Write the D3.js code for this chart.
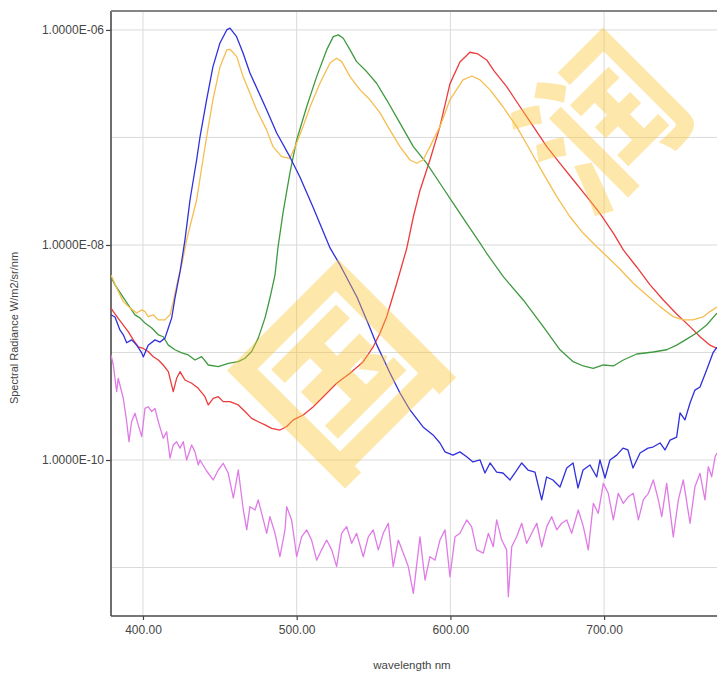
<!DOCTYPE html>
<html>
<head>
<meta charset="utf-8">
<script src="https://cdn.jsdelivr.net/npm/d3@7/dist/d3.min.js"></script>
<style>
    body { margin: 0; background: #fff; }
    svg text { font-family: "Liberation Sans", Arial, sans-serif; fill: #454545; }
</style>
</head>
<body>
<div id="chart" style="width:717px;height:675px;"></div>
<script>

// wavelength ticks (nm) and the decades that carry a label
const wavelengthTicks = [400, 500, 600, 700];
const decadeLines = [1e-6, 1e-7, 1e-8, 1e-9, 1e-10, 1e-11];
const decadeLabels = [1e-6, 1e-8, 1e-10];

// spectra: [wavelength nm, radiance W/m2/sr/nm]
const blueSpectrum = [
    [379.2,2.24e-9],[381.8,2.14e-9],[385.0,1.62e-9],[387.2,1.46e-9],[389.4,1.23e-9],[392.6,1.31e-9],[395.9,1.17e-9],
    [399.2,9.9e-10],[400.2,9.1e-10],[403.4,1.17e-9],[407.8,1.31e-9],[411.1,1.25e-9],[414.3,1.36e-9],[416.5,1.69e-9],
    [418.7,2.10e-9],[420.8,3.21e-9],[424.1,5.61e-9],[427.3,1.11e-8],[430.6,2.62e-8],[434.9,6.17e-8],[437.1,1.01e-7],
    [441.4,2.24e-7],[445.5,4.53e-7],[450.1,7.57e-7],[454.5,1.0e-6],[456.6,1.04e-6],[460.9,8.66e-7],[465.1,6.1e-7],
    [469.6,3.98e-7],[480.5,1.80e-7],[487.0,1.10e-7],[495.6,6.59e-8],[502.1,4.29e-8],[510.6,2.26e-8],[521.7,9.38e-9],
    [528.2,6.52e-9],[539.2,3.28e-9],[547.7,1.69e-9],[552.2,1.17e-9],[560.7,6.45e-10],[567.2,4.20e-10],[573.7,2.92e-10],
    [582.2,2.03e-10],[588.7,1.71e-10],[593.2,1.44e-10],[596.5,1.19e-10],[601.7,1.11e-10],[606.2,1.19e-10],[610.6,1.07e-10],
    [614.7,9.58e-11],[619.3,1.0e-10],[622.5,7.57e-11],[625.8,9.38e-11],[630.1,7.73e-11],[634.2,7.57e-11],[638.8,6.52e-11],
    [642.0,7.57e-11],[646.4,9.38e-11],[650.5,8.07e-11],[655.0,7.73e-11],[659.4,4.25e-11],[662.6,6.95e-11],[666.7,6.52e-11],
    [671.3,5.61e-11],[675.7,8.42e-11],[679.8,9.38e-11],[683.0,5.49e-11],[686.3,8.07e-11],[690.8,8.99e-11],[695.2,6.95e-11],
    [697.3,1.0e-10],[700.6,6.80e-11],[703.8,1.0e-10],[708.2,1.11e-10],[712.3,1.29e-10],[715.5,1.24e-10],[718.8,8.42e-11],
    [723.4,1.16e-10],[728.6,1.29e-10],[731.8,1.32e-10],[736.4,1.44e-10],[739.6,1.24e-10],[742.9,1.53e-10],[747.2,1.63e-10],
    [749.4,2.74e-10],[752.6,2.36e-10],[755.9,3.39e-10],[759.1,4.47e-10],[762.4,4.78e-10],[766.7,6.88e-10],[770.8,9.9e-10],
    [773.4,1.12e-9]
];

const greenSpectrum = [
    [379.2,5.07e-9],[381.8,4.25e-9],[386.1,3.43e-9],[390.4,2.77e-9],[394.8,2.24e-9],[398.0,2.10e-9],[401.3,1.88e-9],
    [405.7,1.69e-9],[410.0,1.46e-9],[413.2,1.40e-9],[416.5,1.17e-9],[420.8,1.06e-9],[425.2,9.9e-10],[429.5,9.48e-10],
    [433.8,8.51e-10],[438.2,9.14e-10],[442.5,7.65e-10],[449.0,7.38e-10],[455.5,7.93e-10],[462.0,8.21e-10],[466.4,8.83e-10],
    [470.7,1.02e-9],[475.0,1.36e-9],[479.4,2.10e-9],[482.6,3.21e-9],[485.9,5.26e-9],[487.8,9.38e-9],[491.1,1.99e-8],
    [495.6,4.68e-8],[500.0,9.48e-8],[506.5,1.93e-7],[513.0,3.68e-7],[519.5,6.52e-7],[523.8,8.66e-7],[527.1,8.99e-7],
    [530.3,8.37e-7],[534.7,6.52e-7],[539.0,5.07e-7],[545.5,4.10e-7],[552.0,3.19e-7],[558.5,2.24e-7],[567.2,1.36e-7],
    [575.9,8.21e-8],[584.6,5.75e-8],[593.2,3.75e-8],[601.9,2.44e-8],[610.6,1.59e-8],[619.3,1.04e-8],[624.0,8.2e-9],
    [634.4,5.07e-9],[647.4,3.08e-9],[660.4,1.74e-9],[671.3,1.06e-9],[679.9,8.21e-10],[686.4,7.49e-10],[692.9,7.13e-10],
    [699.5,7.65e-10],[706.0,7.49e-10],[712.5,8.51e-10],[721.2,9.68e-10],[732.0,1.01e-9],[740.7,1.06e-9],[747.2,1.17e-9],
    [753.7,1.33e-9],[760.2,1.52e-9],[766.7,1.80e-9],[773.4,2.32e-9]
];

const redSpectrum = [
    [379.2,2.58e-9],[380.7,2.40e-9],[383.9,2.08e-9],[387.2,1.80e-9],[390.4,1.56e-9],[393.7,1.31e-9],[396.9,1.13e-9],
    [400.2,1.09e-9],[403.4,1.02e-9],[406.7,9.14e-10],[410.0,8.51e-10],[413.2,7.65e-10],[416.5,6.63e-10],[419.7,4.32e-10],
    [421.9,5.75e-10],[424.1,6.63e-10],[427.3,5.55e-10],[431.7,5.17e-10],[436.0,4.64e-10],[440.3,3.88e-10],[442.5,3.25e-10],
    [445.7,3.75e-10],[449.0,3.88e-10],[452.2,3.49e-10],[456.6,3.49e-10],[462.0,3.25e-10],[466.4,2.82e-10],[470.7,2.44e-10],
    [475.0,2.27e-10],[479.4,2.12e-10],[483.7,1.97e-10],[489.1,1.90e-10],[493.5,2.05e-10],[497.8,2.36e-10],[504.3,2.62e-10],
    [510.8,3.13e-10],[517.3,3.88e-10],[526.0,5.17e-10],[534.7,6.40e-10],[543.3,8.21e-10],[549.8,1.13e-9],[554.2,1.51e-9],
    [558.6,2.16e-9],[565.1,4.40e-9],[571.6,9.3e-9],[575.9,1.83e-8],[580.3,3.25e-8],[586.7,6.17e-8],[593.2,1.26e-7],
    [599.7,3.15e-7],[606.2,5.04e-7],[612.7,6.20e-7],[617.9,5.98e-7],[623.6,5.26e-7],[628.4,4.16e-7],[636.6,2.97e-7],
    [645.3,1.93e-7],[654.0,1.26e-7],[662.7,8.21e-8],[671.3,5.75e-8],[680.0,4.02e-8],[688.7,2.82e-8],[697.3,1.97e-8],
    [706.0,1.29e-8],[712.5,8.99e-9],[721.2,6.24e-9],[729.9,4.25e-9],[738.5,3.08e-9],[747.2,2.28e-9],[755.9,1.74e-9],
    [762.4,1.40e-9],[768.9,1.17e-9],[773.4,1.09e-9]
];

const orangeSpectrum = [
    [379.2,5.26e-9],[382.9,3.98e-9],[387.2,2.97e-9],[391.5,2.60e-9],[395.9,2.33e-9],[399.2,2.49e-9],[401.3,2.40e-9],
    [403.4,2.16e-9],[406.7,2.24e-9],[409.9,2.01e-9],[414.3,2.01e-9],[417.6,2.24e-9],[419.7,2.97e-9],[423.0,4.93e-9],
    [425.2,6.52e-9],[428.4,1.11e-8],[434.9,2.62e-8],[439.0,6.17e-8],[441.4,1.01e-7],[445.5,2.24e-7],[450.1,4.53e-7],
    [454.5,6.52e-7],[456.6,6.61e-7],[461.0,5.65e-7],[465.1,3.68e-7],[469.6,2.58e-7],[474.0,1.80e-7],[480.5,1.17e-7],
    [484.6,8.21e-8],[490.2,6.63e-8],[495.6,6.40e-8],[500.0,8.89e-8],[504.1,1.26e-7],[508.7,1.93e-7],[515.2,3.21e-7],
    [521.7,4.93e-7],[526.0,5.46e-7],[529.3,5.07e-7],[534.7,3.68e-7],[541.2,2.77e-7],[547.7,2.24e-7],[554.2,1.69e-7],
    [560.7,1.17e-7],[567.2,8.21e-8],[573.7,6.17e-8],[578.1,5.75e-8],[582.2,6.17e-8],[586.7,8.21e-8],[593.2,1.26e-7],
    [599.7,2.24e-7],[608.2,3.43e-7],[613.9,3.73e-7],[619.3,3.43e-7],[625.8,2.77e-7],[634.2,1.93e-7],[643.1,1.26e-7],
    [651.8,7.65e-8],[660.2,4.68e-8],[669.2,2.82e-8],[677.8,1.83e-8],[686.3,1.29e-8],[695.2,9.64e-9],[710.3,5.98e-9],
    [718.8,4.43e-9],[727.7,3.43e-9],[736.4,2.67e-9],[744.8,2.16e-9],[751.3,2.01e-9],[757.8,2.01e-9],[764.3,2.14e-9],
    [768.9,2.40e-9],[773.4,2.65e-9]
];

const violetSpectrum = [
    [379.2,9.48e-10],[380.7,7.65e-10],[382.9,4.32e-10],[383.9,5.75e-10],[385.0,4.98e-10],[387.2,3.75e-10],[389.4,2.27e-10],
    [390.9,1.48e-10],[392.6,2.27e-10],[394.8,2.72e-10],[396.9,2.12e-10],[399.2,1.65e-10],[401.3,3.02e-10],[403.4,3.13e-10],
    [405.7,2.82e-10],[407.8,3.02e-10],[410.0,2.27e-10],[413.2,1.59e-10],[415.4,1.83e-10],[417.6,1.04e-10],[419.7,1.38e-10],
    [421.9,1.48e-10],[424.1,1.29e-10],[426.2,1.48e-10],[428.4,1.0e-10],[431.7,1.38e-10],[433.8,1.19e-10],[436.0,8.99e-11],
    [437.1,1.0e-10],[441.4,7.90e-11],[445.7,6.52e-11],[449.0,8.07e-11],[452.2,9.32e-11],[455.5,7.52e-11],[458.8,4.43e-11],
    [462.0,8.07e-11],[465.3,3.43e-11],[467.5,2.24e-11],[469.6,3.68e-11],[472.9,3.43e-11],[475.0,4.25e-11],[478.3,2.77e-11],
    [480.5,2.08e-11],[482.6,2.97e-11],[485.9,2.08e-11],[489.1,1.26e-11],[492.4,2.24e-11],[493.5,3.68e-11],[496.7,2.77e-11],
    [500.0,1.26e-11],[503.2,1.93e-11],[506.5,2.24e-11],[509.7,1.80e-11],[513.0,1.17e-11],[516.2,1.46e-11],[519.5,1.80e-11],
    [522.8,1.46e-11],[526.0,1.02e-11],[529.2,2.08e-11],[532.5,2.40e-11],[535.8,1.68e-11],[539.0,2.08e-11],[543.3,1.26e-11],
    [546.6,1.93e-11],[549.8,2.24e-11],[553.1,1.46e-11],[556.3,2.08e-11],[559.6,2.58e-11],[562.8,1.02e-11],[566.1,1.80e-11],
    [569.4,1.36e-11],[572.6,1.02e-11],[575.9,5.75e-12],[580.2,1.93e-11],[583.5,7.65e-12],[586.7,1.26e-11],[590.0,1.17e-11],
    [593.2,1.80e-11],[596.5,2.24e-11],[599.7,8.21e-12],[603.0,1.93e-11],[606.2,2.08e-11],[610.6,2.77e-11],[613.8,2.40e-11],
    [617.1,1.46e-11],[621.4,1.36e-11],[624.7,2.08e-11],[627.9,1.56e-11],[630.1,2.77e-11],[633.4,1.80e-11],[636.6,1.46e-11],
    [637.7,5.35e-12],[639.9,1.56e-11],[643.1,1.93e-11],[646.4,2.58e-11],[649.6,1.68e-11],[652.9,2.08e-11],[656.2,2.58e-11],
    [659.4,1.56e-11],[662.7,2.40e-11],[665.9,2.97e-11],[669.2,2.24e-11],[672.4,2.58e-11],[675.7,2.77e-11],[678.9,2.08e-11],
    [683.2,3.43e-11],[686.5,2.40e-11],[689.7,1.46e-11],[693.0,3.95e-11],[696.2,3.19e-11],[699.5,6.06e-11],[702.7,4.90e-11],
    [706.0,2.77e-11],[709.2,4.90e-11],[712.5,3.95e-11],[715.8,4.56e-11],[719.0,4.90e-11],[722.3,2.77e-11],[725.5,4.25e-11],
    [728.8,4.90e-11],[732.0,6.52e-11],[735.3,4.25e-11],[737.5,2.97e-11],[740.7,6.06e-11],[745.0,1.93e-11],[748.3,4.25e-11],
    [751.5,6.52e-11],[755.9,2.58e-11],[759.1,5.65e-11],[762.4,7.52e-11],[765.6,4.25e-11],[767.8,8.66e-11],[770.0,6.99e-11],
    [772.2,1.07e-10],[773.4,1.16e-10]
];

const seriesList = [violetSpectrum, redSpectrum, greenSpectrum, orangeSpectrum, blueSpectrum];
const watermarkChars = ["国", "润"];

class SpectrumVis {

    constructor(_parentElement) {
        this.parentElement = _parentElement;
        this.colors = ["#e07ae6", "#ec3b3b", "#3f9a3f", "#f6bd4f", "#3030dc"];
        this.initVis();
    }

    initVis() {
        let vis = this;
        vis.margin = { top: 11, right: -5, bottom: 59, left: 111 };
        vis.outerWidth = 717;
        vis.outerHeight = 675;
        vis.width = vis.outerWidth - vis.margin.left - vis.margin.right;
        vis.height = vis.outerHeight - vis.margin.top - vis.margin.bottom;

        vis.root = d3.select("#" + vis.parentElement).append("svg")
            .attr("width", vis.outerWidth)
            .attr("height", vis.outerHeight);

        vis.svg = vis.root.append("g")
            .attr("transform", "translate(" + vis.margin.left + "," + vis.margin.top + ")");

        vis.x = d3.scaleLinear()
            .domain([379.2, 776.7])
            .range([0, vis.width]);

        // log axis, 107.5px per decade
        vis.y = d3.scaleLog()
            .domain([3.54e-12, 1.5e-6])
            .range([vis.height, 0]);

        vis.line = d3.line()
            .x(d => vis.x(d[0]))
            .y(d => vis.y(d[1]));

        vis.drawAxes();
        vis.updateVis();
    }

    drawAxes() {
        let vis = this;

        // grid
        vis.svg.selectAll(".hgrid").data(decadeLines).join("line")
            .attr("class", "hgrid")
            .attr("x1", 0).attr("x2", vis.width)
            .attr("y1", d => vis.y(d)).attr("y2", d => vis.y(d))
            .attr("stroke", "#dadada").attr("stroke-width", 1);

        vis.svg.selectAll(".vgrid").data(wavelengthTicks).join("line")
            .attr("class", "vgrid")
            .attr("x1", d => vis.x(d)).attr("x2", d => vis.x(d))
            .attr("y1", 0).attr("y2", vis.height)
            .attr("stroke", "#dadada").attr("stroke-width", 1);

        // y axis, only every other decade is labelled
        let yAxis = d3.axisLeft(vis.y)
            .tickValues(decadeLabels)
            .tickSize(5)
            .tickPadding(2)
            .tickFormat(d => d.toExponential(4).toUpperCase().replace(/E([+-])(\d)$/, "E$10$2"));
        vis.svg.append("g").attr("class", "y-axis").call(yAxis);

        let xAxis = d3.axisBottom(vis.x)
            .tickValues(wavelengthTicks)
            .tickSize(4)
            .tickPadding(5)
            .tickFormat(d3.format(".2f"));
        vis.svg.append("g").attr("class", "x-axis")
            .attr("transform", "translate(0," + vis.height + ")")
            .call(xAxis);

        vis.svg.selectAll(".y-axis .domain, .x-axis .domain").remove();
        vis.svg.selectAll(".tick line").attr("stroke", "#444").attr("stroke-width", 1.2);
        vis.svg.selectAll(".tick text")
            .style("font-family", "'Liberation Sans', Arial, sans-serif")
            .style("font-size", "12px")
            .attr("fill", "#454545");

        // frame: left and bottom axis lines, grey top border
        vis.svg.append("line")
            .attr("x1", 0).attr("x2", 0).attr("y1", 0).attr("y2", vis.height)
            .attr("stroke", "#4a4a4a").attr("stroke-width", 1.6);
        vis.svg.append("line")
            .attr("x1", 0).attr("x2", vis.width).attr("y1", vis.height).attr("y2", vis.height)
            .attr("stroke", "#4a4a4a").attr("stroke-width", 1.6);
        vis.svg.append("line")
            .attr("x1", 0).attr("x2", vis.width).attr("y1", 0).attr("y2", 0)
            .attr("stroke", "#858585").attr("stroke-width", 2);

        // axis titles
        vis.root.append("text")
            .attr("x", 412).attr("y", 669)
            .attr("text-anchor", "middle")
            .style("font-size", "11.5px")
            .text("wavelength nm");

        vis.root.append("text")
            .attr("transform", "translate(18,328) rotate(-90)")
            .attr("text-anchor", "middle")
            .style("font-size", "11px")
            .text("Spectral Radiance W/m2/sr/nm");
    }

    updateVis() {
        let vis = this;

        vis.svg.append("clipPath").attr("id", "plotClip")
            .append("rect").attr("width", vis.width).attr("height", vis.height);

        vis.svg.append("g").attr("clip-path", "url(#plotClip)")
            .selectAll(".spectrum").data(seriesList).join("path")
            .attr("class", "spectrum")
            .attr("d", vis.line)
            .attr("fill", "none")
            .attr("stroke", (d, i) => vis.colors[i])
            .attr("stroke-width", 1.3)
            .attr("stroke-linejoin", "round");

        // watermark on top of the plot
        vis.root.selectAll(".mark").data(watermarkChars).join("text")
            .attr("class", "mark")
            .attr("transform", (d, i) => i == 0 ? "translate(332,364) rotate(-45)" : "translate(596,116) rotate(-45)")
            .attr("text-anchor", "middle")
            .attr("dominant-baseline", "central")
            .style("font-family", "'Noto Sans CJK SC', sans-serif")
            .style("font-weight", "700")
            .style("font-size", (d, i) => i == 0 ? "186px" : "155px")
            .style("fill", "#fcc22e")
            .style("fill-opacity", 0.4)
            .text(d => d);
    }
}

new SpectrumVis("chart");
</script>
</body>
</html>
